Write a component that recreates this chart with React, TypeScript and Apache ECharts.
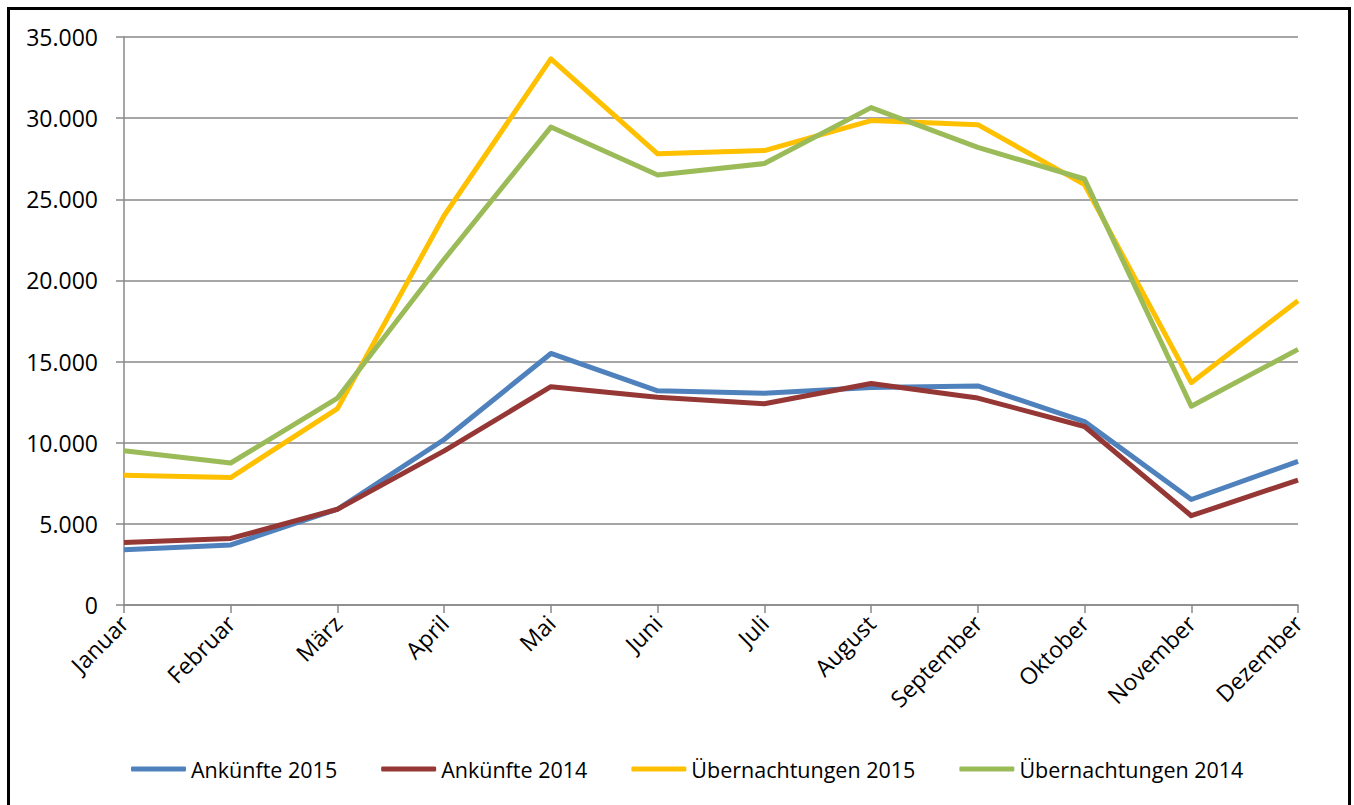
import React, { useEffect, useRef } from "react";
import * as echarts from "echarts";

const months = ["Januar", "Februar", "März", "April", "Mai", "Juni", "Juli", "August", "September", "Oktober", "November", "Dezember"];
const ankuenfte2015 = [3400, 3700, 5900, 10200, 15500, 13200, 13050, 13400, 13500, 11300, 6500, 8850];
const ankuenfte2014 = [3850, 4100, 5900, 9500, 13450, 12800, 12400, 13650, 12750, 11000, 5500, 7700];
const uebernachtungen2015 = [8000, 7850, 12100, 24000, 33650, 27800, 28000, 29850, 29600, 25900, 13700, 18750];
const uebernachtungen2014 = [9500, 8750, 12750, 21300, 29450, 26500, 27200, 30650, 28200, 26250, 12250, 15750];

const seriesNames = ["Ankünfte 2015", "Ankünfte 2014", "Übernachtungen 2015", "Übernachtungen 2014"];
const seriesColors = ["#4F81BD", "#953735", "#FFC000", "#9BBB59"];

const FONT = "Open Sans";

function fmt(v: number): string {
  return String(Math.round(v)).replace(/\B(?=(\d{3})+(?!\d))/g, ".");
}

export default function App() {
  const ref = useRef<HTMLDivElement>(null);
  useEffect(() => {
    if (!ref.current) return;
    const chart = echarts.init(ref.current, null, { renderer: "svg" });
    const data = [ankuenfte2015, ankuenfte2014, uebernachtungen2015, uebernachtungen2014];
    chart.setOption({
      animation: false,
      backgroundColor: "#ffffff",
      textStyle: { fontFamily: FONT, color: "#000" },
      graphic: [
        {
          type: "rect",
          shape: { x: 8.5, y: 8.5, width: 1341, height: 900 },
          style: { fill: "none", stroke: "#000", lineWidth: 3 },
          silent: true,
        },
      ],
      grid: { left: 124, right: 56, top: 37, bottom: 200, containLabel: false },
      legend: {
        bottom: 20,
        left: 126,
        itemWidth: 55,
        itemHeight: 5,
        itemGap: 44,
        icon: "roundRect",
        textStyle: { fontFamily: FONT, fontSize: 21.5, color: "#000" },
        data: seriesNames.map((n, i) => ({ name: n, itemStyle: { color: seriesColors[i] } })),
      },
      xAxis: {
        type: "category",
        data: months,
        boundaryGap: false,
        axisLine: { show: true, lineStyle: { color: "#888888", width: 1.5 } },
        axisTick: { show: true, length: 8, alignWithLabel: true, lineStyle: { color: "#888888", width: 1.5 } },
        axisLabel: { rotate: 45, margin: 14, fontFamily: FONT, fontSize: 23, color: "#000", interval: 0 },
        splitLine: { show: false },
      },
      yAxis: {
        type: "value",
        min: 0,
        max: 35000,
        interval: 5000,
        axisLine: { show: true, lineStyle: { color: "#888888", width: 1.5 } },
        axisTick: { show: true, length: 8, lineStyle: { color: "#888888", width: 1.5 } },
        axisLabel: { margin: 26, fontFamily: FONT, fontSize: 23, color: "#000", formatter: (v: number) => fmt(v) },
        splitLine: { show: true, lineStyle: { color: "#888888", width: 1.5 } },
      },
      series: data.map((d, i) => ({
        name: seriesNames[i],
        type: "line",
        data: d,
        showSymbol: false,
        symbol: "none",
        lineStyle: { color: seriesColors[i], width: 5, join: "round" },
        itemStyle: { color: seriesColors[i] },
        emphasis: { disabled: true },
      })),
    });
    return () => chart.dispose();
  }, []);
  return <div ref={ref} style={{ position: "absolute", left: 0, top: 0, width: 1354, height: 805 }} />;
}
